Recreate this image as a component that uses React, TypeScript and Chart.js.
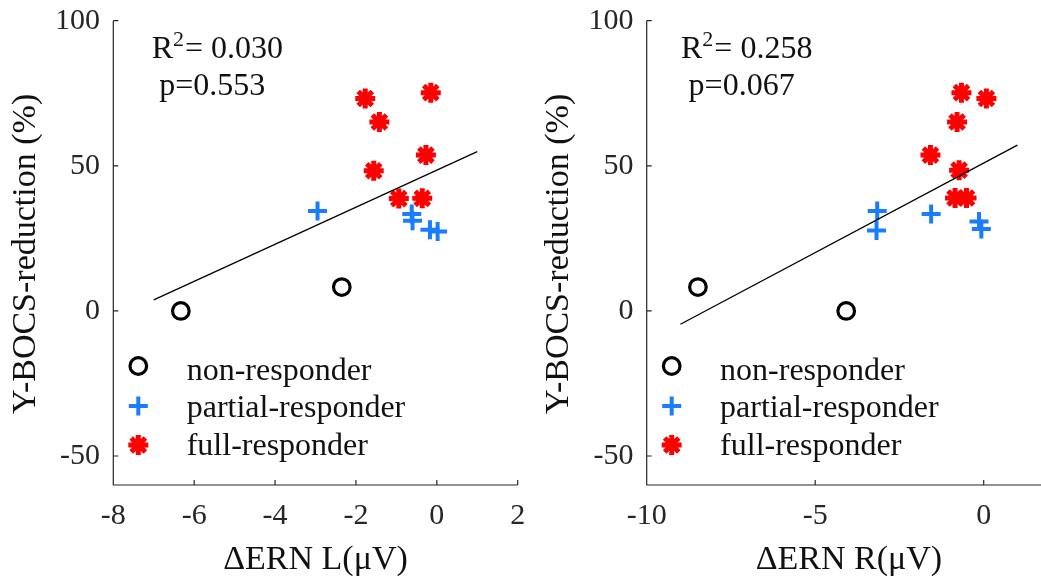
import React, { useEffect, useRef } from "react";
import { Chart, registerables } from "chart.js";

Chart.register(...registerables);

// ---- shared axis setup ----
const yTicks = [-50, 0, 50, 100];
const yMin = -60;
const yMax = 100;
const yTitle = "Y-BOCS-reduction (%)";
const groupLabels = ["non-responder", "partial-responder", "full-responder"];

// ---- left panel: ΔERN L ----
const xTicksL = [-8, -6, -4, -2, 0, 2];
const nonL_x = [-6.33, -2.35];
const nonL_y = [0, 8.2];
const partialL_x = [-2.95, -0.62, -0.6, -0.17, 0.02];
const partialL_y = [34.4, 33.4, 31.1, 28.0, 27.4];
const fullL_x = [-1.77, -0.15, -1.42, -0.27, -1.56, -0.94, -0.36];
const fullL_y = [73.2, 75.2, 65.1, 53.7, 48.3, 38.7, 38.8];
const fitL_x = [-7, 1];
const fitL_y = [3.8, 54.9];
const r2L = "0.030";
const pL = "0.553";

// ---- right panel: ΔERN R ----
const xTicksR = [-10, -5, 0];
const nonR_x = [-8.48, -4.08];
const nonR_y = [8.2, 0];
const partialR_x = [-3.16, -3.18, -1.56, -0.14, -0.07];
const partialR_y = [34.4, 27.7, 33.4, 30.8, 28.2];
const fullR_x = [-0.66, 0.08, -0.79, -1.58, -0.73, -0.85, -0.51];
const fullR_y = [75.2, 73.2, 65.1, 53.7, 48.5, 38.9, 38.9];
const fitR_x = [-9, 1];
const fitR_y = [-4.6, 57.1];
const r2R = "0.258";
const pR = "0.067";

const SERIF = '"Liberation Serif", "Times New Roman", Times, serif';
const INK = "#262626";
const TEXT = "#111111";
const BLUE = "#1a7dff";
const RED = "#ff0000";
const H = 578;

type PanelSpec = {
  xMin: number;
  xMax: number;
  xTicks: number[];
  nonX: number[];
  nonY: number[];
  partialX: number[];
  partialY: number[];
  fullX: number[];
  fullY: number[];
  fitX: number[];
  fitY: number[];
  xTitle: string;
  r2: string;
  p: string;
  left: number; // canvas position on page
  width: number; // canvas width
  yAxisWidth: number;
  statsDx: number;
};

const zip = (xs: number[], ys: number[]) => xs.map((x, i) => ({ x, y: ys[i] }));

function drawMarker(ctx: CanvasRenderingContext2D, kind: string, x: number, y: number) {
  ctx.save();
  ctx.lineCap = "butt";
  if (kind === "circle") {
    ctx.strokeStyle = "#000";
    ctx.lineWidth = 3.2;
    ctx.beginPath();
    ctx.arc(x, y, 8.3, 0, Math.PI * 2);
    ctx.stroke();
  } else if (kind === "cross") {
    ctx.strokeStyle = BLUE;
    ctx.lineWidth = 4;
    const r = 9.5;
    ctx.beginPath();
    ctx.moveTo(x - r, y);
    ctx.lineTo(x + r, y);
    ctx.moveTo(x, y - r);
    ctx.lineTo(x, y + r);
    ctx.stroke();
  } else {
    ctx.strokeStyle = RED;
    ctx.lineWidth = 5;
    const r = 10;
    ctx.beginPath();
    for (let k = 0; k < 4; k++) {
      const a = (k * Math.PI) / 4;
      ctx.moveTo(x - r * Math.cos(a), y - r * Math.sin(a));
      ctx.lineTo(x + r * Math.cos(a), y + r * Math.sin(a));
    }
    ctx.stroke();
  }
  ctx.restore();
}

function buildChart(canvas: HTMLCanvasElement, s: PanelSpec) {
  const decor = {
    id: "panelDecor",
    beforeDatasetsDraw(chart: any) {
      const ctx: CanvasRenderingContext2D = chart.ctx;
      const a = chart.chartArea;
      const xs = chart.scales.x;
      const ys = chart.scales.y;
      ctx.save();
      ctx.strokeStyle = INK;
      ctx.lineWidth = 1.2;
      ctx.beginPath();
      ctx.moveTo(a.left, a.top);
      ctx.lineTo(a.left, a.bottom);
      ctx.lineTo(a.right, a.bottom);
      // inward tick marks
      for (const v of yTicks) {
        const py = ys.getPixelForValue(v);
        ctx.moveTo(a.left, py);
        ctx.lineTo(a.left + 5, py);
      }
      for (const v of s.xTicks) {
        const px = xs.getPixelForValue(v);
        ctx.moveTo(px, a.bottom);
        ctx.lineTo(px, a.bottom - 5);
      }
      ctx.stroke();
      ctx.restore();
    },
    afterDraw(chart: any) {
      const ctx: CanvasRenderingContext2D = chart.ctx;
      const a = chart.chartArea;
      ctx.save();
      ctx.fillStyle = TEXT;
      ctx.textAlign = "left";
      ctx.textBaseline = "alphabetic";

      // statistics
      const sx = a.left + s.statsDx;
      ctx.font = `32px ${SERIF}`;
      ctx.fillText("R", sx, 58.3);
      const wR = ctx.measureText("R").width;
      ctx.font = `22px ${SERIF}`;
      ctx.fillText("2", sx + wR, 46);
      const w2 = ctx.measureText("2").width;
      ctx.font = `32px ${SERIF}`;
      ctx.fillText("= " + s.r2, sx + wR + w2 + 1, 58.3);
      ctx.fillText("p=" + s.p, sx + 7.6, 95);

      // legend
      const kinds = ["circle", "cross", "star"];
      const markerY = [366, 406, 445];
      const textY = [379.5, 417, 455];
      ctx.font = `32px ${SERIF}`;
      groupLabels.forEach((lab, i) => {
        drawMarker(ctx, kinds[i], a.left + 25, markerY[i]);
        ctx.fillStyle = TEXT;
        ctx.fillText(lab, a.left + 73.4, textY[i]);
      });

      // axis titles
      ctx.font = `34px ${SERIF}`;
      ctx.textAlign = "center";
      ctx.fillText(s.xTitle, (a.left + a.right) / 2, 569);
      ctx.save();
      ctx.translate(a.left - 78.3, (a.top + a.bottom) / 2 + 1);
      ctx.rotate(-Math.PI / 2);
      ctx.fillText(yTitle, 0, 0);
      ctx.restore();
      ctx.restore();
    },
  };

  return new Chart(canvas, {
    type: "scatter",
    data: {
      datasets: [
        {
          type: "line",
          data: zip(s.fitX, s.fitY),
          borderColor: "#000",
          borderWidth: 1.3,
          pointRadius: 0,
          fill: false,
          tension: 0,
        } as any,
        {
          data: zip(s.fullX, s.fullY),
          pointStyle: "star",
          pointRadius: 10,
          pointBorderWidth: 5,
          pointBorderColor: RED,
          pointBackgroundColor: RED,
        },
        {
          data: zip(s.partialX, s.partialY),
          pointStyle: "cross",
          pointRadius: 9.5,
          pointBorderWidth: 4,
          pointBorderColor: BLUE,
          pointBackgroundColor: BLUE,
        },
        {
          data: zip(s.nonX, s.nonY),
          pointStyle: "circle",
          pointRadius: 8.3,
          pointBorderWidth: 3.2,
          pointBorderColor: "#000",
          pointBackgroundColor: "rgba(0,0,0,0)",
        },
      ],
    },
    options: {
      responsive: false,
      animation: false,
      events: [],
      layout: { padding: { left: 0, top: 20.7, right: s.width - s.yAxisWidth - 404.4, bottom: 0 } },
      plugins: { legend: { display: false }, tooltip: { enabled: false } },
      scales: {
        x: {
          type: "linear",
          min: s.xMin,
          max: s.xMax,
          grid: { display: false, drawTicks: false },
          border: { display: false },
          ticks: {
            color: INK,
            font: { family: SERIF, size: 30 },
            padding: 13,
            maxRotation: 0,
            autoSkip: false,
          },
          afterBuildTicks: (sc: any) => {
            sc.ticks = s.xTicks.map((v) => ({ value: v }));
          },
          afterFit: (sc: any) => {
            sc.height = H - 485;
            sc.paddingLeft = 0;
            sc.paddingRight = 0;
          },
        },
        y: {
          type: "linear",
          min: yMin,
          max: yMax,
          grid: { display: false, drawTicks: false },
          border: { display: false },
          ticks: {
            color: INK,
            font: { family: SERIF, size: 30 },
            padding: 13.3,
            autoSkip: false,
          },
          afterBuildTicks: (sc: any) => {
            sc.ticks = yTicks.map((v) => ({ value: v }));
          },
          afterFit: (sc: any) => {
            sc.width = s.yAxisWidth;
            sc.paddingTop = 0;
            sc.paddingBottom = 0;
          },
        },
      },
    },
    plugins: [decor],
  } as any);
}

const panels: PanelSpec[] = [
  {
    xMin: -8,
    xMax: 2,
    xTicks: xTicksL,
    nonX: nonL_x,
    nonY: nonL_y,
    partialX: partialL_x,
    partialY: partialL_y,
    fullX: fullL_x,
    fullY: fullL_y,
    fitX: fitL_x,
    fitY: fitL_y,
    xTitle: "ΔERN L(μV)",
    r2: r2L,
    p: pL,
    left: 0,
    width: 545,
    yAxisWidth: 113.3,
    statsDx: 38.4,
  },
  {
    xMin: -10,
    xMax: 2,
    xTicks: xTicksR,
    nonX: nonR_x,
    nonY: nonR_y,
    partialX: partialR_x,
    partialY: partialR_y,
    fullX: fullR_x,
    fullY: fullR_y,
    fitX: fitR_x,
    fitY: fitR_y,
    xTitle: "ΔERN R(μV)",
    r2: r2R,
    p: pR,
    left: 530,
    width: 561,
    yAxisWidth: 116.7,
    statsDx: 34.3,
  },
];

function Panel({ spec }: { spec: PanelSpec }) {
  const ref = useRef<HTMLCanvasElement>(null);
  useEffect(() => {
    const chart = buildChart(ref.current as HTMLCanvasElement, spec);
    return () => chart.destroy();
  }, [spec]);
  return (
    <canvas
      ref={ref}
      width={spec.width}
      height={H}
      style={{ position: "absolute", left: spec.left, top: 0, width: spec.width, height: H }}
    />
  );
}

export default function App() {
  return (
    <div
      style={{
        position: "absolute",
        left: 0,
        top: 0,
        width: 1041,
        height: H,
        overflow: "hidden",
        background: "#fff",
      }}
    >
      {panels.map((p, i) => (
        <Panel key={i} spec={p} />
      ))}
    </div>
  );
}
